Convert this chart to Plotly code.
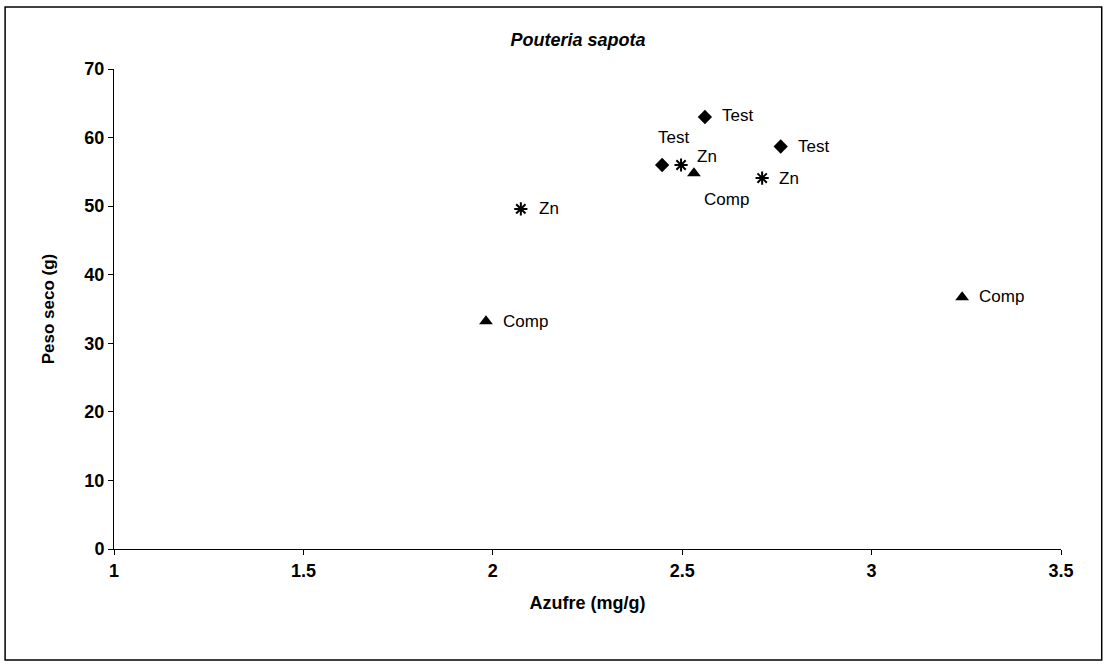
import plotly.graph_objects as go

# data: azufre (mg/g) vs peso seco (g)
test_x = [2.56, 2.76, 2.447]
test_y = [63.0, 58.7, 56.0]
zn_x = [2.497, 2.711, 2.074]
zn_y = [56.0, 54.1, 49.6]
comp_x = [2.531, 1.982, 3.239]
comp_y = [54.8, 33.2, 36.7]

x_ticks = [1, 1.5, 2, 2.5, 3, 3.5]
y_ticks = [0, 10, 20, 30, 40, 50, 60, 70]

FONT = "Liberation Sans, Arial"

fig = go.Figure()

fig.add_trace(go.Scatter(x=test_x, y=test_y, mode="markers", name="Test",
                         marker=dict(symbol="diamond", size=11, color="black")))
fig.add_trace(go.Scatter(x=zn_x, y=zn_y, mode="markers", name="Zn",
                         marker=dict(symbol="asterisk-open", size=11, color="black",
                                     line=dict(color="black", width=2))))
fig.add_trace(go.Scatter(x=comp_x, y=comp_y, mode="markers", name="Comp",
                         marker=dict(symbol="triangle-up", size=12, color="black")))

# point labels (offsets in px, the crowded cluster gets its own placement)
anns = []
def label(xs, ys, txt, offsets):
    for x, y, (dx, dy, anchor) in zip(xs, ys, offsets):
        anns.append(dict(x=x, y=y, text=txt, showarrow=False, xshift=dx, yshift=dy,
                         xanchor=anchor, yanchor="middle",
                         font=dict(family=FONT, size=17, color="black")))

label(test_x, test_y, "Test", [(15, 2, "left"), (15, 0, "left"), (11, 28, "center")])
label(zn_x, zn_y, "Zn", [(14, 9, "left"), (15, 0, "left"), (16, 0, "left")])
label(comp_x, comp_y, "Comp", [(33, -26, "center"), (15, 0, "left"), (15, 1, "left")])

fig.update_layout(
    width=1105, height=666,
    margin=dict(l=114, r=44, t=69, b=117),
    paper_bgcolor="white", plot_bgcolor="white",
    showlegend=False,
    font=dict(family=FONT, color="black"),
    title=dict(text="<b><i>Pouteria sapota</i></b>", x=0.49, xref="paper", xanchor="center",
               y=0.941, yanchor="middle", font=dict(size=18)),
    annotations=anns,
    xaxis=dict(
        range=[1, 3.5], tickvals=x_ticks, ticktext=[f"<b>{v:g}</b>" for v in x_ticks],
        showgrid=False, zeroline=False, showline=True, linecolor="black", linewidth=1,
        ticks="outside", ticklen=5, tickcolor="black", tickfont=dict(size=18),
        title=dict(text="<b>Azufre (mg/g)</b>", font=dict(size=18), standoff=16)
    ),
    yaxis=dict(
        range=[0, 70], tickvals=y_ticks, ticktext=[f"<b>{v}</b>" for v in y_ticks],
        showgrid=False, zeroline=False, showline=True, linecolor="black", linewidth=1,
        ticks="outside", ticklen=5, tickcolor="black", tickfont=dict(size=18),
        title=dict(text="<b>Peso seco (g)</b>", font=dict(size=17), standoff=25)
    ),
    # frame around the whole chart
    shapes=[dict(type="rect", xref="paper", yref="paper",
                 x0=-0.115, x1=1.043, y0=-0.231, y1=1.129,
                 line=dict(color="black", width=1.5))]
)

# drop the default page margin so the figure sits at the top-left corner
fig.write_html("out.html", config={"displayModeBar": False},
               post_script="document.body.style.margin='0';")
